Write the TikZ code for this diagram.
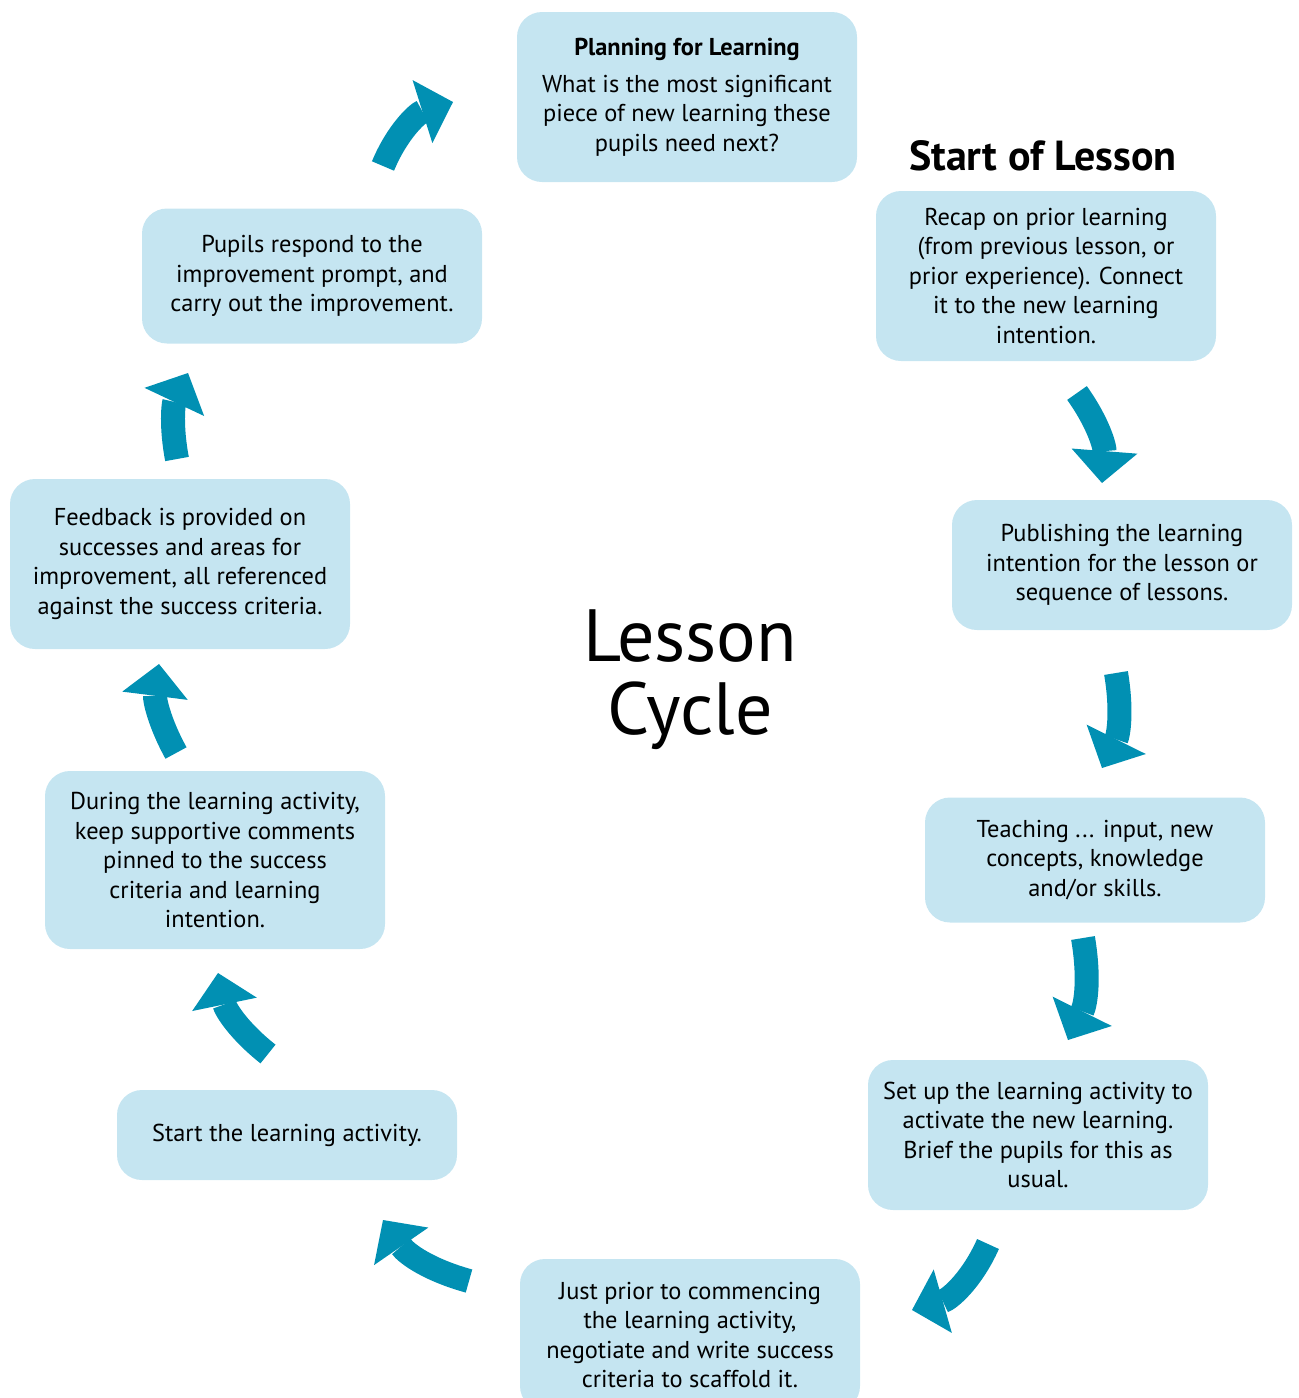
\documentclass[tikz,border=0pt]{standalone}
\usepackage{fontspec}
\setmainfont{PT Sans}
\usetikzlibrary{arrows.meta}
\definecolor{boxblue}{HTML}{C5E5F1}
\definecolor{arrowteal}{HTML}{0190B3}

\begin{document}
\begin{tikzpicture}[x=0.5pt,y=-0.5pt,>=Stealth]
\tikzset{cyclebox/.style={fill=boxblue,rounded corners=12.5pt,minimum width=170pt,inner sep=0pt,
    align=center,font=\fontsize{12.2}{14.75}\selectfont},
  cyclearrow/.style={draw=arrowteal,line width=12pt,
    -{Triangle[length=16pt,width=33pt,line width=0pt]}}}
\useasboundingbox (0,0) rectangle (1298,1398);
\clip (0,0) rectangle (1298,1398);
% ---------- boxes round the cycle ----------
\node[cyclebox,minimum height=85pt] (plan) at (687,97)
  {\textbf{Planning for Learning}\\[3.75pt]What is the most significant\\piece of new learning these\\pupils need next?};
\node[font=\fontsize{21}{25}\selectfont\bfseries] (startlbl) at (1043,156) {Start of Lesson};
\node[cyclebox,minimum height=85pt] (recap) at (1046,276)
  {Recap on prior learning\\(from previous lesson, or\\prior experience). Connect\\it to the new learning\\intention.};
\node[cyclebox,minimum height=65pt] (publish) at (1122,565)
  {Publishing the learning\\intention for the lesson or\\sequence of lessons.};
\node[cyclebox,minimum height=62.5pt] (teach) at (1095,860)
  {Teaching ... input, new\\concepts, knowledge\\and/or skills.};
\node[cyclebox,minimum height=75pt] (setup) at (1038,1135)
  {Set up the learning activity to\\activate the new learning.\\Brief the pupils for this as\\usual.};
\node[cyclebox,minimum height=76pt] (prior) at (690,1335)
  {Just prior to commencing\\the learning activity,\\negotiate and write success\\criteria to scaffold it.};
\node[cyclebox,minimum height=45pt] (start) at (287,1135) {Start the learning activity.};
\node[cyclebox,minimum height=89pt] (during) at (215,860)
  {During the learning activity,\\keep supportive comments\\pinned to the success\\criteria and learning\\intention.};
\node[cyclebox,minimum height=85pt] (feedback) at (180,564)
  {Feedback is provided on\\successes and areas for\\improvement, all referenced\\against the success criteria.};
\node[cyclebox,minimum height=67.5pt] (pupils) at (312,276)
  {Pupils respond to the\\improvement prompt, and\\carry out the improvement.};
% centre title
\node[align=center,font=\fontsize{37}{36.5}\selectfont] (title) at (690,680) {Lesson\\Cycle};
% ---------- arrow ends ----------
\coordinate (a1s) at (383,166);  \coordinate (a1e) at (453,102);   % pupils -> plan
\coordinate (a2s) at (1077,393); \coordinate (a2e) at (1102,483);  % recap -> publish
\coordinate (a3s) at (1116,673); \coordinate (a3e) at (1102,768);  % publish -> teach
\coordinate (a4s) at (1083,938); \coordinate (a4e) at (1068,1040); % teach -> setup
\coordinate (a5s) at (988,1244); \coordinate (a5e) at (912,1310);  % setup -> prior
\coordinate (a6s) at (469,1281); \coordinate (a6e) at (383,1220);  % prior -> start
\coordinate (a7s) at (268,1054); \coordinate (a7e) at (218,973);   % start -> during
\coordinate (a8s) at (176,753);  \coordinate (a8e) at (159,664);   % during -> feedback
\coordinate (a9s) at (177,459);  \coordinate (a9e) at (188,373);   % feedback -> pupils
% ---------- curved arrows, all bulging outward ----------
\draw[cyclearrow] (a1s) to[bend left=25] (a1e);
\draw[cyclearrow] (a2s) to[bend left=20] (a2e);
\draw[cyclearrow] (a3s) to[bend left=18] (a3e);
\draw[cyclearrow] (a4s) to[bend left=18] (a4e);
\draw[cyclearrow] (a5s) to[bend left=25] (a5e);
\draw[cyclearrow] (a6s) to[bend left=20] (a6e);
\draw[cyclearrow] (a7s) to[bend left=20] (a7e);
\draw[cyclearrow] (a8s) to[bend left=18] (a8e);
\draw[cyclearrow] (a9s) to[bend left=18] (a9e);
\end{tikzpicture}
\end{document}
